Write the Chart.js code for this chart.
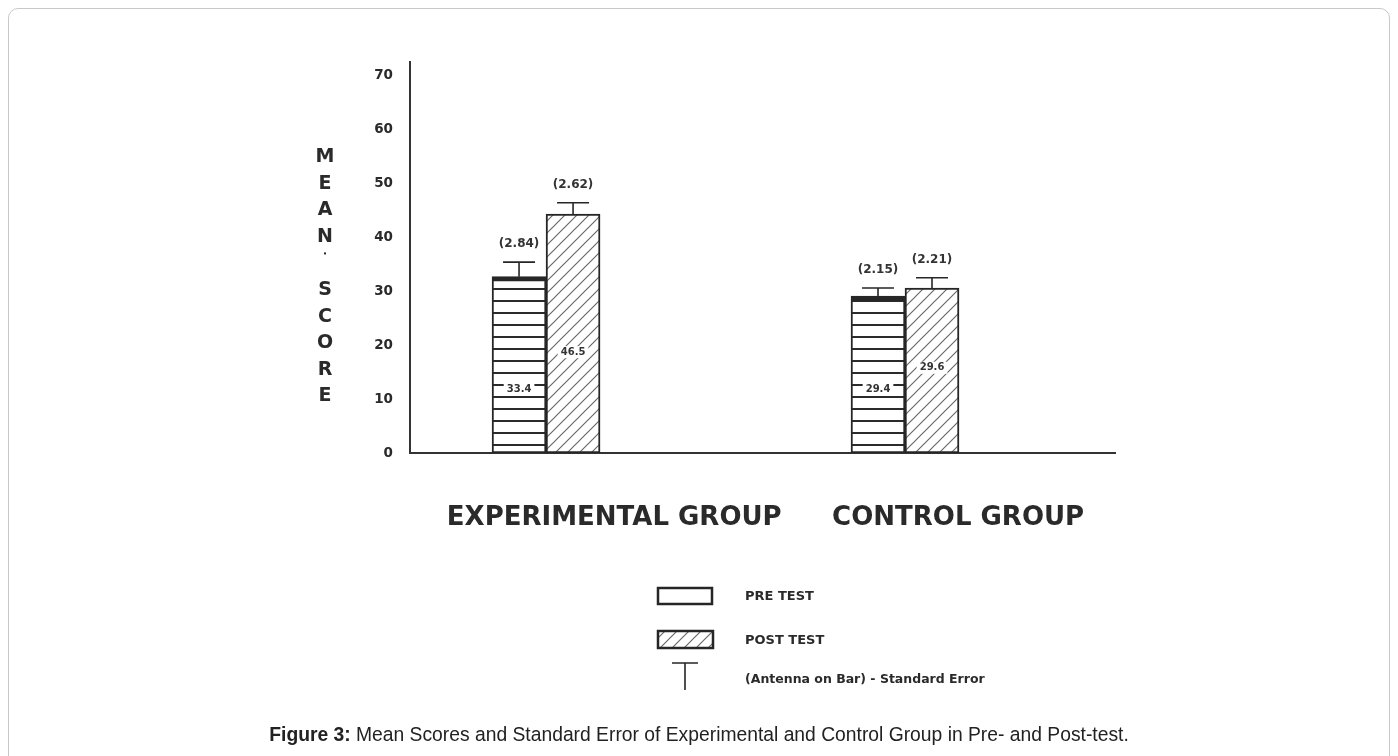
<!DOCTYPE html>
<html><head><meta charset="utf-8">
<script src="https://cdn.jsdelivr.net/npm/chart.js@4.4.1/dist/chart.umd.min.js"></script>
<style>
html,body{margin:0;padding:0;background:#fff;}
#wrap{position:relative;width:1398px;height:756px;overflow:hidden;}
#frame{position:absolute;left:8px;top:8px;width:1380px;height:790px;border:1px solid #c9c9c9;border-radius:10px;}
#chartBox{position:absolute;left:0;top:0;width:1398px;height:756px;}
#caption{position:absolute;left:0;width:1398px;top:724px;text-align:center;font-family:"Liberation Sans",Arial,sans-serif;font-size:19.3px;color:#222;}
</style></head><body>
<div id="wrap"><div id="frame"></div>
<div id="chartBox"><canvas id="cv"></canvas></div>
<div id="caption"><b>Figure 3:</b> Mean Scores and Standard Error of Experimental and Control Group in Pre- and Post-test.</div>
</div>
<script>
const categories = ['EXPERIMENTAL GROUP', 'CONTROL GROUP'];
const seriesNames = ['PRE TEST', 'POST TEST'];
const preValues = [32.7, 29.1];
const postValues = [44.3, 30.6];
const preErr = [2.7, 1.5];
const postErr = [2.1, 1.9];
const preErrLabels = ['(2.84)', '(2.15)'];
const postErrLabels = ['(2.62)', '(2.21)'];
const preMeanLabels = ['33.4', '29.4'];
const postMeanLabels = ['46.5', '29.6'];
const yTitle = 'MEAN SCORE';
const legendNote = '(Antenna on Bar) - Standard Error';

const INK = '#262626';
const FONT = 'DejaVu Sans';

const canvas = document.getElementById('cv');
const mctx = canvas.getContext('2d');

function makeH() {
  const c = document.createElement('canvas'); c.width = 8; c.height = 12;
  const g = c.getContext('2d');
  g.fillStyle = '#fff'; g.fillRect(0, 0, 8, 12);
  g.fillStyle = '#2b2b2b'; g.fillRect(0, 0, 8, 2);
  return mctx.createPattern(c, 'repeat');
}
function makeD() {
  const s = 12;
  const c = document.createElement('canvas'); c.width = s; c.height = s;
  const g = c.getContext('2d');
  g.fillStyle = '#fff'; g.fillRect(0, 0, s, s);
  g.strokeStyle = '#6a6a6a'; g.lineWidth = 1.2;
  g.beginPath();
  g.moveTo(-2, s + 2); g.lineTo(s + 2, -2);
  g.moveTo(-2, 2); g.lineTo(2, -2);
  g.moveTo(s - 2, s + 2); g.lineTo(s + 2, s - 2);
  g.stroke();
  return mctx.createPattern(c, 'repeat');
}
const hPat = makeH();
const dPat = makeD();

const extras = {
  id: 'extras',
  afterDatasetsDraw(chart) {
    const ctx = chart.ctx, ys = chart.scales.y;
    const vals = [preValues, postValues];
    const errs = [preErr, postErr];
    const errLabels = [preErrLabels, postErrLabels];
    const means = [preMeanLabels, postMeanLabels];
    const meanAt = [[11.7, 11.7], [18.7, 15.8]];
    ctx.save();
    for (let d = 0; d < 2; d++) {
      const meta = chart.getDatasetMeta(d);
      meta.data.forEach((bar, i) => {
        const top = ys.getPixelForValue(vals[d][i]);
        const et = ys.getPixelForValue(vals[d][i] + errs[d][i]);
        ctx.strokeStyle = INK; ctx.lineWidth = 1.6;
        ctx.beginPath();
        ctx.moveTo(bar.x, top); ctx.lineTo(bar.x, et);
        ctx.moveTo(bar.x - 16, et); ctx.lineTo(bar.x + 16, et);
        ctx.stroke();
        ctx.fillStyle = '#333';
        ctx.font = 'bold 12px "' + FONT + '"';
        ctx.textAlign = 'center'; ctx.textBaseline = 'middle';
        ctx.fillText(errLabels[d][i], bar.x, et - 18);
        const my = ys.getPixelForValue(meanAt[d][i]);
        ctx.font = 'bold 10px "' + FONT + '"';
        const w = ctx.measureText(means[d][i]).width;
        ctx.fillStyle = '#fff';
        ctx.fillRect(bar.x - w / 2 - 3, my - 6, w + 6, 12);
        ctx.fillStyle = '#333';
        ctx.fillText(means[d][i], bar.x, my);
      });
    }
    ctx.restore();
  },
  afterDraw(chart) {
    const ctx = chart.ctx;
    ctx.save();
    ctx.fillStyle = '#2a2a2a';
    ctx.font = 'bold 19px "' + FONT + '"';
    ctx.textAlign = 'center'; ctx.textBaseline = 'middle';
    yTitle.split('').forEach((ch, k) => {
      if (ch === ' ') {
        ctx.fillRect(324, 157 + k * 26.6 - 11, 2, 2);
      } else {
        ctx.fillText(ch, 325, 157 + k * 26.6);
      }
    });
    ctx.lineWidth = 2.5; ctx.strokeStyle = INK;
    ctx.fillStyle = '#fff';
    ctx.fillRect(658, 588, 54, 16);
    ctx.strokeRect(658, 588, 54, 16);
    ctx.fillStyle = dPat;
    ctx.fillRect(658, 631, 55, 17);
    ctx.strokeRect(658, 631, 55, 17);
    ctx.lineWidth = 1.6;
    ctx.beginPath();
    ctx.moveTo(672, 663); ctx.lineTo(698, 663);
    ctx.moveTo(685, 663); ctx.lineTo(685, 690);
    ctx.stroke();
    ctx.fillStyle = '#2a2a2a';
    ctx.textAlign = 'left'; ctx.textBaseline = 'middle';
    ctx.font = 'bold 13px "' + FONT + '"';
    ctx.fillText(seriesNames[0], 745, 597);
    ctx.fillText(seriesNames[1], 745, 641);
    ctx.font = 'bold 12.5px "' + FONT + '"';
    ctx.fillText(legendNote, 745, 680);
    ctx.restore();
  }
};

new Chart(canvas, {
  type: 'bar',
  data: {
    datasets: [
      {
        label: seriesNames[0],
        data: preValues.map((v, i) => ({ x: i + 1, y: v })),
        backgroundColor: hPat,
        borderColor: INK,
        borderWidth: { top: 5, left: 2, right: 2, bottom: 2 },
        borderSkipped: false,
        barThickness: 54
      },
      {
        label: seriesNames[1],
        data: postValues.map((v, i) => ({ x: i + 1, y: v })),
        backgroundColor: dPat,
        borderColor: INK,
        borderWidth: 2,
        borderSkipped: false,
        barThickness: 54
      }
    ]
  },
  options: {
    responsive: true,
    maintainAspectRatio: false,
    animation: false,
    layout: { padding: { left: 0, right: 283, top: 62, bottom: 0 } },
    plugins: { legend: { display: false }, tooltip: { enabled: false } },
    scales: {
      x: {
        type: 'linear', min: 0.621, max: 2.585, offset: false,
        grid: { display: false, drawTicks: false },
        border: { display: true, color: '#333', width: 2 },
        afterBuildTicks: ax => { ax.ticks = [{ value: 1.19 }, { value: 2.148 }]; },
        afterFit: s => { s.height = 303; },
        ticks: {
          callback: (v, i) => categories[i],
          padding: 50, autoSkip: false, maxRotation: 0,
          color: '#2a2a2a',
          font: { family: FONT, weight: 'bold', size: 26 }
        }
      },
      y: {
        min: 0, max: 72.5,
        grid: { display: false, drawTicks: false },
        border: { display: true, color: '#333', width: 2 },
        afterFit: s => { s.width = 410; },
        ticks: {
          stepSize: 10, includeBounds: false, padding: 17,
          color: '#2a2a2a',
          font: { family: FONT, weight: 'bold', size: 13.5 }
        }
      }
    }
  },
  plugins: [extras]
});
</script>
</body></html>
